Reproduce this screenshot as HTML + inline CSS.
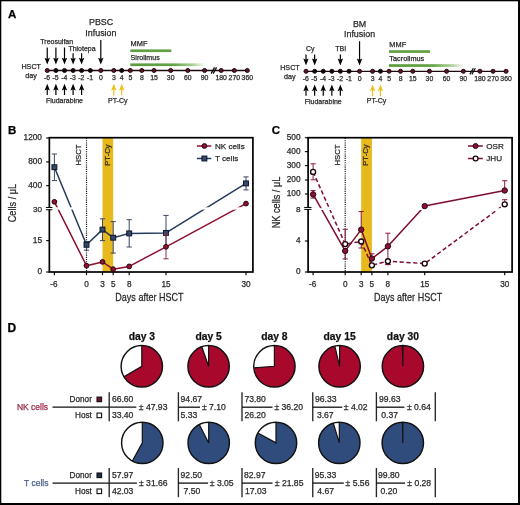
<!DOCTYPE html>
<html><head><meta charset="utf-8"><style>
html,body{margin:0;padding:0;background:#fff;}
#w{position:relative;width:520px;height:505px;overflow:hidden;background:#fff;}
svg{position:absolute;left:0;top:0;will-change:transform;}
svg text{font-family:"Liberation Sans",sans-serif;}
</style></head><body><div id="w">
<svg width="520" height="505" viewBox="0 0 520 505">
<rect x="0" y="0" width="520" height="505" fill="#fff"/>
<text x="8.00" y="18.40" font-size="11.5" text-anchor="start" font-weight="bold" fill="#000" stroke="#000" stroke-width="0.25" >A</text>
<defs><linearGradient id="g0" x1="0" x2="1" y1="0" y2="0"><stop offset="0" stop-color="#5a9a3c"/><stop offset="0.6" stop-color="#64a246"/><stop offset="0.85" stop-color="#88bc6c" stop-opacity="0.7"/><stop offset="1" stop-color="#a8d090" stop-opacity="0.15"/></linearGradient></defs>
<rect x="130.30" y="49.40" width="41.00" height="2.7" fill="#62a044"/>
<rect x="130.30" y="63.40" width="73.80" height="2.7" fill="url(#g0)"/>
<text x="130.60" y="46.00" font-size="7.4" text-anchor="start" font-weight="normal" fill="#2a2a2a" stroke="#2a2a2a" stroke-width="0.25" >MMF</text>
<text x="130.60" y="60.00" font-size="7.1" text-anchor="start" font-weight="normal" fill="#2a2a2a" stroke="#2a2a2a" stroke-width="0.25" >Sirolimus</text>
<line x1="47.25" y1="70.50" x2="247.30" y2="70.50" stroke="#1a0a0e" stroke-width="1.3" />
<line x1="211.15" y1="73.60" x2="214.55" y2="67.40" stroke="#111" stroke-width="1.25" />
<line x1="213.15" y1="73.60" x2="216.55" y2="67.40" stroke="#111" stroke-width="1.25" />
<circle cx="47.25" cy="70.50" r="2.05" fill="#5a1426" stroke="#1a0508" stroke-width="0.9"/>
<text x="46.95" y="79.60" font-size="6.9" text-anchor="middle" font-weight="normal" fill="#2a2a2a" stroke="#2a2a2a" stroke-width="0.25" >-6</text>
<circle cx="55.90" cy="70.50" r="2.05" fill="#0a0a0a" stroke="#1a0508" stroke-width="0.9"/>
<text x="55.60" y="79.60" font-size="6.9" text-anchor="middle" font-weight="normal" fill="#2a2a2a" stroke="#2a2a2a" stroke-width="0.25" >-5</text>
<circle cx="64.50" cy="70.50" r="2.05" fill="#0a0a0a" stroke="#1a0508" stroke-width="0.9"/>
<text x="64.20" y="79.60" font-size="6.9" text-anchor="middle" font-weight="normal" fill="#2a2a2a" stroke="#2a2a2a" stroke-width="0.25" >-4</text>
<circle cx="73.10" cy="70.50" r="2.05" fill="#0a0a0a" stroke="#1a0508" stroke-width="0.9"/>
<text x="72.80" y="79.60" font-size="6.9" text-anchor="middle" font-weight="normal" fill="#2a2a2a" stroke="#2a2a2a" stroke-width="0.25" >-3</text>
<circle cx="81.60" cy="70.50" r="2.05" fill="#0a0a0a" stroke="#1a0508" stroke-width="0.9"/>
<text x="81.30" y="79.60" font-size="6.9" text-anchor="middle" font-weight="normal" fill="#2a2a2a" stroke="#2a2a2a" stroke-width="0.25" >-2</text>
<circle cx="90.30" cy="70.50" r="2.05" fill="#0a0a0a" stroke="#1a0508" stroke-width="0.9"/>
<text x="90.00" y="79.60" font-size="6.9" text-anchor="middle" font-weight="normal" fill="#2a2a2a" stroke="#2a2a2a" stroke-width="0.25" >-1</text>
<circle cx="100.80" cy="70.50" r="2.05" fill="#5a1426" stroke="#1a0508" stroke-width="0.9"/>
<text x="100.80" y="79.60" font-size="6.9" text-anchor="middle" font-weight="normal" fill="#2a2a2a" stroke="#2a2a2a" stroke-width="0.25" >0</text>
<circle cx="113.80" cy="70.50" r="2.05" fill="#5a1426" stroke="#1a0508" stroke-width="0.9"/>
<text x="113.80" y="79.60" font-size="6.9" text-anchor="middle" font-weight="normal" fill="#2a2a2a" stroke="#2a2a2a" stroke-width="0.25" >3</text>
<circle cx="121.70" cy="70.50" r="2.05" fill="#0a0a0a" stroke="#1a0508" stroke-width="0.9"/>
<text x="121.70" y="79.60" font-size="6.9" text-anchor="middle" font-weight="normal" fill="#2a2a2a" stroke="#2a2a2a" stroke-width="0.25" >4</text>
<circle cx="130.30" cy="70.50" r="2.05" fill="#5a1426" stroke="#1a0508" stroke-width="0.9"/>
<text x="130.30" y="79.60" font-size="6.9" text-anchor="middle" font-weight="normal" fill="#2a2a2a" stroke="#2a2a2a" stroke-width="0.25" >5</text>
<circle cx="141.80" cy="70.50" r="2.05" fill="#5a1426" stroke="#1a0508" stroke-width="0.9"/>
<text x="141.80" y="79.60" font-size="6.9" text-anchor="middle" font-weight="normal" fill="#2a2a2a" stroke="#2a2a2a" stroke-width="0.25" >8</text>
<circle cx="154.00" cy="70.50" r="2.05" fill="#5a1426" stroke="#1a0508" stroke-width="0.9"/>
<text x="154.00" y="79.60" font-size="6.9" text-anchor="middle" font-weight="normal" fill="#2a2a2a" stroke="#2a2a2a" stroke-width="0.25" >15</text>
<circle cx="170.70" cy="70.50" r="2.05" fill="#5a1426" stroke="#1a0508" stroke-width="0.9"/>
<text x="170.70" y="79.60" font-size="6.9" text-anchor="middle" font-weight="normal" fill="#2a2a2a" stroke="#2a2a2a" stroke-width="0.25" >30</text>
<circle cx="187.80" cy="70.50" r="2.05" fill="#5a1426" stroke="#1a0508" stroke-width="0.9"/>
<text x="187.80" y="79.60" font-size="6.9" text-anchor="middle" font-weight="normal" fill="#2a2a2a" stroke="#2a2a2a" stroke-width="0.25" >60</text>
<circle cx="204.60" cy="70.50" r="2.05" fill="#5a1426" stroke="#1a0508" stroke-width="0.9"/>
<text x="204.60" y="79.60" font-size="6.9" text-anchor="middle" font-weight="normal" fill="#2a2a2a" stroke="#2a2a2a" stroke-width="0.25" >90</text>
<circle cx="221.20" cy="70.50" r="2.05" fill="#5a1426" stroke="#1a0508" stroke-width="0.9"/>
<text x="221.20" y="79.60" font-size="6.9" text-anchor="middle" font-weight="normal" fill="#2a2a2a" stroke="#2a2a2a" stroke-width="0.25" >180</text>
<circle cx="234.30" cy="70.50" r="2.05" fill="#5a1426" stroke="#1a0508" stroke-width="0.9"/>
<text x="234.30" y="79.60" font-size="6.9" text-anchor="middle" font-weight="normal" fill="#2a2a2a" stroke="#2a2a2a" stroke-width="0.25" >270</text>
<circle cx="247.30" cy="70.50" r="2.05" fill="#5a1426" stroke="#1a0508" stroke-width="0.9"/>
<text x="247.30" y="79.60" font-size="6.9" text-anchor="middle" font-weight="normal" fill="#2a2a2a" stroke="#2a2a2a" stroke-width="0.25" >360</text>
<text x="31.20" y="69.20" font-size="7.2" text-anchor="middle" font-weight="normal" fill="#2a2a2a" stroke="#2a2a2a" stroke-width="0.25" >HSCT</text>
<text x="31.00" y="78.20" font-size="7.2" text-anchor="middle" font-weight="normal" fill="#2a2a2a" stroke="#2a2a2a" stroke-width="0.25" >day</text>
<line x1="47.25" y1="89.00" x2="47.25" y2="95.00" stroke="#000" stroke-width="1.2" />
<path d="M44.55,90.50 L47.25,89.30 L49.95,90.50 L47.25,83.70 Z" fill="#000"/>
<line x1="55.90" y1="89.00" x2="55.90" y2="95.00" stroke="#000" stroke-width="1.2" />
<path d="M53.20,90.50 L55.90,89.30 L58.60,90.50 L55.90,83.70 Z" fill="#000"/>
<line x1="64.50" y1="89.00" x2="64.50" y2="95.00" stroke="#000" stroke-width="1.2" />
<path d="M61.80,90.50 L64.50,89.30 L67.20,90.50 L64.50,83.70 Z" fill="#000"/>
<line x1="73.10" y1="89.00" x2="73.10" y2="95.00" stroke="#000" stroke-width="1.2" />
<path d="M70.40,90.50 L73.10,89.30 L75.80,90.50 L73.10,83.70 Z" fill="#000"/>
<line x1="81.60" y1="89.00" x2="81.60" y2="95.00" stroke="#000" stroke-width="1.2" />
<path d="M78.90,90.50 L81.60,89.30 L84.30,90.50 L81.60,83.70 Z" fill="#000"/>
<text x="46.00" y="103.10" font-size="7.0" text-anchor="start" font-weight="normal" fill="#2a2a2a" stroke="#2a2a2a" stroke-width="0.25" >Fludarabine</text>
<line x1="113.80" y1="89.00" x2="113.80" y2="95.50" stroke="#ecc21a" stroke-width="1.2" />
<path d="M111.10,90.50 L113.80,89.30 L116.50,90.50 L113.80,83.70 Z" fill="#ecc21a"/>
<line x1="121.70" y1="89.00" x2="121.70" y2="95.50" stroke="#ecc21a" stroke-width="1.2" />
<path d="M119.00,90.50 L121.70,89.30 L124.40,90.50 L121.70,83.70 Z" fill="#ecc21a"/>
<text x="117.75" y="102.60" font-size="7.0" text-anchor="middle" font-weight="normal" fill="#2a2a2a" stroke="#2a2a2a" stroke-width="0.25" >PT-Cy</text>
<line x1="47.25" y1="47.50" x2="47.25" y2="59.30" stroke="#000" stroke-width="1.2" />
<path d="M44.55,57.80 L47.25,59.00 L49.95,57.80 L47.25,64.60 Z" fill="#000"/>
<line x1="55.90" y1="47.50" x2="55.90" y2="59.30" stroke="#000" stroke-width="1.2" />
<path d="M53.20,57.80 L55.90,59.00 L58.60,57.80 L55.90,64.60 Z" fill="#000"/>
<line x1="64.50" y1="47.50" x2="64.50" y2="59.30" stroke="#000" stroke-width="1.2" />
<path d="M61.80,57.80 L64.50,59.00 L67.20,57.80 L64.50,64.60 Z" fill="#000"/>
<line x1="73.10" y1="53.20" x2="73.10" y2="59.30" stroke="#000" stroke-width="1.2" />
<path d="M70.40,57.80 L73.10,59.00 L75.80,57.80 L73.10,64.60 Z" fill="#000"/>
<line x1="81.60" y1="53.20" x2="81.60" y2="59.30" stroke="#000" stroke-width="1.2" />
<path d="M78.90,57.80 L81.60,59.00 L84.30,57.80 L81.60,64.60 Z" fill="#000"/>
<text x="40.30" y="43.50" font-size="7.0" text-anchor="start" font-weight="normal" fill="#2a2a2a" stroke="#2a2a2a" stroke-width="0.25" >Treosulfan</text>
<text x="68.40" y="51.20" font-size="7.0" text-anchor="start" font-weight="normal" fill="#2a2a2a" stroke="#2a2a2a" stroke-width="0.25" >Thiotepa</text>
<line x1="100.80" y1="40.00" x2="100.80" y2="59.30" stroke="#000" stroke-width="1.2" />
<path d="M98.10,57.80 L100.80,59.00 L103.50,57.80 L100.80,64.60 Z" fill="#000"/>
<text x="101.10" y="25.30" font-size="8.9" text-anchor="middle" font-weight="normal" fill="#2a2a2a" stroke="#2a2a2a" stroke-width="0.25" >PBSC</text>
<text x="100.90" y="35.60" font-size="8.9" text-anchor="middle" font-weight="normal" fill="#2a2a2a" stroke="#2a2a2a" stroke-width="0.25" >Infusion</text>
<defs><linearGradient id="g258" x1="0" x2="1" y1="0" y2="0"><stop offset="0" stop-color="#5a9a3c"/><stop offset="0.6" stop-color="#64a246"/><stop offset="0.85" stop-color="#88bc6c" stop-opacity="0.7"/><stop offset="1" stop-color="#a8d090" stop-opacity="0.15"/></linearGradient></defs>
<rect x="389.05" y="50.20" width="41.00" height="2.7" fill="#62a044"/>
<rect x="389.05" y="64.20" width="73.80" height="2.7" fill="url(#g258)"/>
<text x="389.35" y="46.80" font-size="7.4" text-anchor="start" font-weight="normal" fill="#2a2a2a" stroke="#2a2a2a" stroke-width="0.25" >MMF</text>
<text x="389.35" y="60.80" font-size="7.3" text-anchor="start" font-weight="normal" fill="#2a2a2a" stroke="#2a2a2a" stroke-width="0.25" >Tacrolimus</text>
<line x1="306.00" y1="71.30" x2="506.05" y2="71.30" stroke="#1a0a0e" stroke-width="1.3" />
<line x1="469.90" y1="74.40" x2="473.30" y2="68.20" stroke="#111" stroke-width="1.25" />
<line x1="471.90" y1="74.40" x2="475.30" y2="68.20" stroke="#111" stroke-width="1.25" />
<circle cx="306.00" cy="71.30" r="2.05" fill="#5a1426" stroke="#1a0508" stroke-width="0.9"/>
<text x="305.70" y="80.70" font-size="6.9" text-anchor="middle" font-weight="normal" fill="#2a2a2a" stroke="#2a2a2a" stroke-width="0.25" >-6</text>
<circle cx="314.65" cy="71.30" r="2.05" fill="#0a0a0a" stroke="#1a0508" stroke-width="0.9"/>
<text x="314.35" y="80.70" font-size="6.9" text-anchor="middle" font-weight="normal" fill="#2a2a2a" stroke="#2a2a2a" stroke-width="0.25" >-5</text>
<circle cx="323.25" cy="71.30" r="2.05" fill="#0a0a0a" stroke="#1a0508" stroke-width="0.9"/>
<text x="322.95" y="80.70" font-size="6.9" text-anchor="middle" font-weight="normal" fill="#2a2a2a" stroke="#2a2a2a" stroke-width="0.25" >-4</text>
<circle cx="331.85" cy="71.30" r="2.05" fill="#0a0a0a" stroke="#1a0508" stroke-width="0.9"/>
<text x="331.55" y="80.70" font-size="6.9" text-anchor="middle" font-weight="normal" fill="#2a2a2a" stroke="#2a2a2a" stroke-width="0.25" >-3</text>
<circle cx="340.35" cy="71.30" r="2.05" fill="#0a0a0a" stroke="#1a0508" stroke-width="0.9"/>
<text x="340.05" y="80.70" font-size="6.9" text-anchor="middle" font-weight="normal" fill="#2a2a2a" stroke="#2a2a2a" stroke-width="0.25" >-2</text>
<circle cx="349.05" cy="71.30" r="2.05" fill="#0a0a0a" stroke="#1a0508" stroke-width="0.9"/>
<text x="348.75" y="80.70" font-size="6.9" text-anchor="middle" font-weight="normal" fill="#2a2a2a" stroke="#2a2a2a" stroke-width="0.25" >-1</text>
<circle cx="359.55" cy="71.30" r="2.05" fill="#5a1426" stroke="#1a0508" stroke-width="0.9"/>
<text x="359.55" y="80.70" font-size="6.9" text-anchor="middle" font-weight="normal" fill="#2a2a2a" stroke="#2a2a2a" stroke-width="0.25" >0</text>
<circle cx="372.55" cy="71.30" r="2.05" fill="#5a1426" stroke="#1a0508" stroke-width="0.9"/>
<text x="372.55" y="80.70" font-size="6.9" text-anchor="middle" font-weight="normal" fill="#2a2a2a" stroke="#2a2a2a" stroke-width="0.25" >3</text>
<circle cx="380.45" cy="71.30" r="2.05" fill="#0a0a0a" stroke="#1a0508" stroke-width="0.9"/>
<text x="380.45" y="80.70" font-size="6.9" text-anchor="middle" font-weight="normal" fill="#2a2a2a" stroke="#2a2a2a" stroke-width="0.25" >4</text>
<circle cx="389.05" cy="71.30" r="2.05" fill="#5a1426" stroke="#1a0508" stroke-width="0.9"/>
<text x="389.05" y="80.70" font-size="6.9" text-anchor="middle" font-weight="normal" fill="#2a2a2a" stroke="#2a2a2a" stroke-width="0.25" >5</text>
<circle cx="400.55" cy="71.30" r="2.05" fill="#5a1426" stroke="#1a0508" stroke-width="0.9"/>
<text x="400.55" y="80.70" font-size="6.9" text-anchor="middle" font-weight="normal" fill="#2a2a2a" stroke="#2a2a2a" stroke-width="0.25" >8</text>
<circle cx="412.75" cy="71.30" r="2.05" fill="#5a1426" stroke="#1a0508" stroke-width="0.9"/>
<text x="412.75" y="80.70" font-size="6.9" text-anchor="middle" font-weight="normal" fill="#2a2a2a" stroke="#2a2a2a" stroke-width="0.25" >15</text>
<circle cx="429.45" cy="71.30" r="2.05" fill="#5a1426" stroke="#1a0508" stroke-width="0.9"/>
<text x="429.45" y="80.70" font-size="6.9" text-anchor="middle" font-weight="normal" fill="#2a2a2a" stroke="#2a2a2a" stroke-width="0.25" >30</text>
<circle cx="446.55" cy="71.30" r="2.05" fill="#5a1426" stroke="#1a0508" stroke-width="0.9"/>
<text x="446.55" y="80.70" font-size="6.9" text-anchor="middle" font-weight="normal" fill="#2a2a2a" stroke="#2a2a2a" stroke-width="0.25" >60</text>
<circle cx="463.35" cy="71.30" r="2.05" fill="#5a1426" stroke="#1a0508" stroke-width="0.9"/>
<text x="463.35" y="80.70" font-size="6.9" text-anchor="middle" font-weight="normal" fill="#2a2a2a" stroke="#2a2a2a" stroke-width="0.25" >90</text>
<circle cx="479.95" cy="71.30" r="2.05" fill="#5a1426" stroke="#1a0508" stroke-width="0.9"/>
<text x="479.95" y="80.70" font-size="6.9" text-anchor="middle" font-weight="normal" fill="#2a2a2a" stroke="#2a2a2a" stroke-width="0.25" >180</text>
<circle cx="493.05" cy="71.30" r="2.05" fill="#5a1426" stroke="#1a0508" stroke-width="0.9"/>
<text x="493.05" y="80.70" font-size="6.9" text-anchor="middle" font-weight="normal" fill="#2a2a2a" stroke="#2a2a2a" stroke-width="0.25" >270</text>
<circle cx="506.05" cy="71.30" r="2.05" fill="#5a1426" stroke="#1a0508" stroke-width="0.9"/>
<text x="506.05" y="80.70" font-size="6.9" text-anchor="middle" font-weight="normal" fill="#2a2a2a" stroke="#2a2a2a" stroke-width="0.25" >360</text>
<text x="289.95" y="70.00" font-size="7.2" text-anchor="middle" font-weight="normal" fill="#2a2a2a" stroke="#2a2a2a" stroke-width="0.25" >HSCT</text>
<text x="289.75" y="79.00" font-size="7.2" text-anchor="middle" font-weight="normal" fill="#2a2a2a" stroke="#2a2a2a" stroke-width="0.25" >day</text>
<line x1="306.00" y1="89.80" x2="306.00" y2="95.80" stroke="#000" stroke-width="1.2" />
<path d="M303.30,91.30 L306.00,90.10 L308.70,91.30 L306.00,84.50 Z" fill="#000"/>
<line x1="314.65" y1="89.80" x2="314.65" y2="95.80" stroke="#000" stroke-width="1.2" />
<path d="M311.95,91.30 L314.65,90.10 L317.35,91.30 L314.65,84.50 Z" fill="#000"/>
<line x1="323.25" y1="89.80" x2="323.25" y2="95.80" stroke="#000" stroke-width="1.2" />
<path d="M320.55,91.30 L323.25,90.10 L325.95,91.30 L323.25,84.50 Z" fill="#000"/>
<line x1="331.85" y1="89.80" x2="331.85" y2="95.80" stroke="#000" stroke-width="1.2" />
<path d="M329.15,91.30 L331.85,90.10 L334.55,91.30 L331.85,84.50 Z" fill="#000"/>
<line x1="340.35" y1="89.80" x2="340.35" y2="95.80" stroke="#000" stroke-width="1.2" />
<path d="M337.65,91.30 L340.35,90.10 L343.05,91.30 L340.35,84.50 Z" fill="#000"/>
<text x="304.75" y="103.90" font-size="7.0" text-anchor="start" font-weight="normal" fill="#2a2a2a" stroke="#2a2a2a" stroke-width="0.25" >Fludarabine</text>
<line x1="372.55" y1="89.80" x2="372.55" y2="96.30" stroke="#ecc21a" stroke-width="1.2" />
<path d="M369.85,91.30 L372.55,90.10 L375.25,91.30 L372.55,84.50 Z" fill="#ecc21a"/>
<line x1="380.45" y1="89.80" x2="380.45" y2="96.30" stroke="#ecc21a" stroke-width="1.2" />
<path d="M377.75,91.30 L380.45,90.10 L383.15,91.30 L380.45,84.50 Z" fill="#ecc21a"/>
<text x="376.50" y="103.40" font-size="7.0" text-anchor="middle" font-weight="normal" fill="#2a2a2a" stroke="#2a2a2a" stroke-width="0.25" >PT-Cy</text>
<line x1="306.00" y1="54.40" x2="306.00" y2="60.10" stroke="#000" stroke-width="1.2" />
<path d="M303.30,58.60 L306.00,59.80 L308.70,58.60 L306.00,65.40 Z" fill="#000"/>
<line x1="314.65" y1="54.40" x2="314.65" y2="60.10" stroke="#000" stroke-width="1.2" />
<path d="M311.95,58.60 L314.65,59.80 L317.35,58.60 L314.65,65.40 Z" fill="#000"/>
<text x="310.32" y="50.60" font-size="7.0" text-anchor="middle" font-weight="normal" fill="#2a2a2a" stroke="#2a2a2a" stroke-width="0.25" >Cy</text>
<line x1="340.35" y1="54.40" x2="340.35" y2="60.10" stroke="#000" stroke-width="1.2" />
<path d="M337.65,58.60 L340.35,59.80 L343.05,58.60 L340.35,65.40 Z" fill="#000"/>
<text x="340.75" y="50.60" font-size="7.0" text-anchor="middle" font-weight="normal" fill="#2a2a2a" stroke="#2a2a2a" stroke-width="0.25" >TBI</text>
<line x1="359.55" y1="41.20" x2="359.55" y2="60.10" stroke="#000" stroke-width="1.2" />
<path d="M356.85,58.60 L359.55,59.80 L362.25,58.60 L359.55,65.40 Z" fill="#000"/>
<text x="359.55" y="26.50" font-size="8.9" text-anchor="middle" font-weight="normal" fill="#2a2a2a" stroke="#2a2a2a" stroke-width="0.25" >BM</text>
<text x="359.55" y="36.90" font-size="8.9" text-anchor="middle" font-weight="normal" fill="#2a2a2a" stroke="#2a2a2a" stroke-width="0.25" >Infusion</text>
<defs><mask id="mB" maskUnits="userSpaceOnUse" x="0" y="0" width="520" height="505"><rect x="0" y="0" width="520" height="505" fill="#fff"/><rect x="50" y="207.3" width="202" height="2.3" fill="#000"/></mask><mask id="mC" maskUnits="userSpaceOnUse" x="0" y="0" width="520" height="505"><rect x="0" y="0" width="520" height="505" fill="#fff"/><rect x="309" y="208.2" width="202" height="1.8" fill="#000"/></mask></defs>
<rect x="102.50" y="138.00" width="10.70" height="134.00" fill="#e8b91c"/>
<line x1="86.50" y1="138.00" x2="86.50" y2="272.00" stroke="#111" stroke-width="1.2" stroke-dasharray="1.1,1.1"/>
<text transform="translate(81.10,155.00) rotate(-90)" x="0" y="0" font-size="7.7" text-anchor="middle" fill="#2a2a2a" stroke="#2a2a2a" stroke-width="0.25">HSCT</text>
<text transform="translate(109.50,155.10) rotate(-90)" x="0" y="0" font-size="7.7" text-anchor="middle" fill="#332b1a" stroke="#332b1a" stroke-width="0.25">PT-Cy</text>
<line x1="46.20" y1="138.00" x2="49.40" y2="138.00" stroke="#111" stroke-width="1.2" />
<text x="42.00" y="140.10" font-size="8.3" text-anchor="end" font-weight="normal" fill="#2a2a2a" stroke="#2a2a2a" stroke-width="0.25" >1200</text>
<line x1="46.20" y1="161.90" x2="49.40" y2="161.90" stroke="#111" stroke-width="1.2" />
<text x="42.00" y="164.00" font-size="8.3" text-anchor="end" font-weight="normal" fill="#2a2a2a" stroke="#2a2a2a" stroke-width="0.25" >800</text>
<line x1="46.20" y1="185.60" x2="49.40" y2="185.60" stroke="#111" stroke-width="1.2" />
<text x="42.00" y="187.70" font-size="8.3" text-anchor="end" font-weight="normal" fill="#2a2a2a" stroke="#2a2a2a" stroke-width="0.25" >400</text>
<line x1="46.20" y1="240.60" x2="49.40" y2="240.60" stroke="#111" stroke-width="1.2" />
<text x="42.00" y="242.70" font-size="8.3" text-anchor="end" font-weight="normal" fill="#2a2a2a" stroke="#2a2a2a" stroke-width="0.25" >15</text>
<line x1="46.20" y1="272.00" x2="49.40" y2="272.00" stroke="#111" stroke-width="1.2" />
<text x="42.00" y="274.10" font-size="8.3" text-anchor="end" font-weight="normal" fill="#2a2a2a" stroke="#2a2a2a" stroke-width="0.25" >0</text>
<line x1="54.40" y1="272.00" x2="54.40" y2="275.20" stroke="#111" stroke-width="1.2" />
<text x="54.00" y="286.50" font-size="8.2" text-anchor="middle" font-weight="normal" fill="#2a2a2a" stroke="#2a2a2a" stroke-width="0.25" >-6</text>
<line x1="86.50" y1="272.00" x2="86.50" y2="275.20" stroke="#111" stroke-width="1.2" />
<text x="86.50" y="286.50" font-size="8.2" text-anchor="middle" font-weight="normal" fill="#2a2a2a" stroke="#2a2a2a" stroke-width="0.25" >0</text>
<line x1="102.50" y1="272.00" x2="102.50" y2="275.20" stroke="#111" stroke-width="1.2" />
<text x="102.50" y="286.50" font-size="8.2" text-anchor="middle" font-weight="normal" fill="#2a2a2a" stroke="#2a2a2a" stroke-width="0.25" >3</text>
<line x1="113.20" y1="272.00" x2="113.20" y2="275.20" stroke="#111" stroke-width="1.2" />
<text x="113.20" y="286.50" font-size="8.2" text-anchor="middle" font-weight="normal" fill="#2a2a2a" stroke="#2a2a2a" stroke-width="0.25" >5</text>
<line x1="129.20" y1="272.00" x2="129.20" y2="275.20" stroke="#111" stroke-width="1.2" />
<text x="129.20" y="286.50" font-size="8.2" text-anchor="middle" font-weight="normal" fill="#2a2a2a" stroke="#2a2a2a" stroke-width="0.25" >8</text>
<line x1="166.00" y1="272.00" x2="166.00" y2="275.20" stroke="#111" stroke-width="1.2" />
<text x="166.00" y="286.50" font-size="8.2" text-anchor="middle" font-weight="normal" fill="#2a2a2a" stroke="#2a2a2a" stroke-width="0.25" >15</text>
<line x1="246.00" y1="272.00" x2="246.00" y2="275.20" stroke="#111" stroke-width="1.2" />
<text x="246.00" y="286.50" font-size="8.2" text-anchor="middle" font-weight="normal" fill="#2a2a2a" stroke="#2a2a2a" stroke-width="0.25" >30</text>
<text transform="translate(149.40,301.0) scale(0.86,1)" x="0" y="0" font-size="10.5" text-anchor="middle" fill="#2a2a2a" stroke="#2a2a2a" stroke-width="0.25">Days after HSCT</text>
<text x="8.00" y="134.00" font-size="11.5" text-anchor="start" font-weight="bold" fill="#000" stroke="#000" stroke-width="0.25" >B</text>
<line x1="54.40" y1="154.00" x2="54.40" y2="180.60" stroke="#3c4660" stroke-width="1.0" />
<line x1="51.80" y1="154.00" x2="57.00" y2="154.00" stroke="#3c4660" stroke-width="1.0" />
<line x1="51.80" y1="180.60" x2="57.00" y2="180.60" stroke="#3c4660" stroke-width="1.0" />
<line x1="86.50" y1="241.50" x2="86.50" y2="250.20" stroke="#3c4660" stroke-width="1.0" />
<line x1="83.90" y1="241.50" x2="89.10" y2="241.50" stroke="#3c4660" stroke-width="1.0" />
<line x1="83.90" y1="250.20" x2="89.10" y2="250.20" stroke="#3c4660" stroke-width="1.0" />
<line x1="102.50" y1="218.80" x2="102.50" y2="240.60" stroke="#3c4660" stroke-width="1.0" />
<line x1="99.90" y1="218.80" x2="105.10" y2="218.80" stroke="#3c4660" stroke-width="1.0" />
<line x1="99.90" y1="240.60" x2="105.10" y2="240.60" stroke="#3c4660" stroke-width="1.0" />
<line x1="113.20" y1="221.60" x2="113.20" y2="253.10" stroke="#3c4660" stroke-width="1.0" />
<line x1="110.60" y1="221.60" x2="115.80" y2="221.60" stroke="#3c4660" stroke-width="1.0" />
<line x1="110.60" y1="253.10" x2="115.80" y2="253.10" stroke="#3c4660" stroke-width="1.0" />
<line x1="129.20" y1="219.70" x2="129.20" y2="247.00" stroke="#3c4660" stroke-width="1.0" />
<line x1="126.60" y1="219.70" x2="131.80" y2="219.70" stroke="#3c4660" stroke-width="1.0" />
<line x1="126.60" y1="247.00" x2="131.80" y2="247.00" stroke="#3c4660" stroke-width="1.0" />
<line x1="166.00" y1="215.40" x2="166.00" y2="246.00" stroke="#3c4660" stroke-width="1.0" />
<line x1="163.40" y1="215.40" x2="168.60" y2="215.40" stroke="#3c4660" stroke-width="1.0" />
<line x1="163.40" y1="246.00" x2="168.60" y2="246.00" stroke="#3c4660" stroke-width="1.0" />
<line x1="246.00" y1="176.90" x2="246.00" y2="189.90" stroke="#3c4660" stroke-width="1.0" />
<line x1="243.40" y1="176.90" x2="248.60" y2="176.90" stroke="#3c4660" stroke-width="1.0" />
<line x1="243.40" y1="189.90" x2="248.60" y2="189.90" stroke="#3c4660" stroke-width="1.0" />
<g mask="url(#mB)">
<polyline points="54.40,167.20 86.50,244.80 102.50,229.60 113.20,237.70 129.20,233.40 166.00,232.90 246.00,183.40" fill="none" stroke="#243a5e" stroke-width="1.5" stroke-linejoin="round" />
<polyline points="54.40,201.80 86.50,265.70 102.50,261.90 113.20,269.20 129.20,266.40 166.00,246.80 246.00,203.60" fill="none" stroke="#8e0f2e" stroke-width="1.5" stroke-linejoin="round" />
</g>
<rect x="49.35" y="137.70" width="203.55" height="134.30" fill="none" stroke="#000" stroke-width="1.7"/>
<rect x="44" y="207.6" width="9" height="2.0" fill="#fff"/>
<line x1="45.90" y1="207.55" x2="52.40" y2="207.55" stroke="#000" stroke-width="1.0" />
<line x1="45.90" y1="209.75" x2="52.40" y2="209.75" stroke="#000" stroke-width="1.0" />
<text x="42.00" y="211.70" font-size="8.1" text-anchor="end" font-weight="normal" fill="#2a2a2a" stroke="#2a2a2a" stroke-width="0.25" >30</text>
<rect x="51.95" y="164.75" width="4.9" height="4.9" fill="#34496e" stroke="#0d1626" stroke-width="1.0"/>
<rect x="84.05" y="242.35" width="4.9" height="4.9" fill="#34496e" stroke="#0d1626" stroke-width="1.0"/>
<rect x="100.05" y="227.15" width="4.9" height="4.9" fill="#34496e" stroke="#0d1626" stroke-width="1.0"/>
<rect x="110.75" y="235.25" width="4.9" height="4.9" fill="#34496e" stroke="#0d1626" stroke-width="1.0"/>
<rect x="126.75" y="230.95" width="4.9" height="4.9" fill="#34496e" stroke="#0d1626" stroke-width="1.0"/>
<rect x="163.55" y="230.45" width="4.9" height="4.9" fill="#34496e" stroke="#0d1626" stroke-width="1.0"/>
<rect x="243.55" y="180.95" width="4.9" height="4.9" fill="#34496e" stroke="#0d1626" stroke-width="1.0"/>
<line x1="166.00" y1="234.00" x2="166.00" y2="258.80" stroke="#8c3050" stroke-width="1.0" />
<line x1="163.40" y1="234.00" x2="168.60" y2="234.00" stroke="#8c3050" stroke-width="1.0" />
<line x1="163.40" y1="258.80" x2="168.60" y2="258.80" stroke="#8c3050" stroke-width="1.0" />
<circle cx="54.40" cy="201.80" r="2.4" fill="#8e1131" stroke="#2a0510" stroke-width="1.0"/>
<circle cx="86.50" cy="265.70" r="2.4" fill="#8e1131" stroke="#2a0510" stroke-width="1.0"/>
<circle cx="102.50" cy="261.90" r="2.4" fill="#8e1131" stroke="#2a0510" stroke-width="1.0"/>
<circle cx="113.20" cy="269.20" r="2.4" fill="#8e1131" stroke="#2a0510" stroke-width="1.0"/>
<circle cx="129.20" cy="266.40" r="2.4" fill="#8e1131" stroke="#2a0510" stroke-width="1.0"/>
<circle cx="166.00" cy="246.80" r="2.4" fill="#8e1131" stroke="#2a0510" stroke-width="1.0"/>
<circle cx="246.00" cy="203.60" r="2.4" fill="#8e1131" stroke="#2a0510" stroke-width="1.0"/>
<line x1="196.90" y1="146.00" x2="211.30" y2="146.00" stroke="#8e0f2e" stroke-width="1.5" />
<circle cx="204.40" cy="146.00" r="2.4" fill="#8e1131" stroke="#2a0510" stroke-width="1.0"/>
<text x="215.00" y="148.80" font-size="8.1" text-anchor="start" font-weight="normal" fill="#2a2a2a" stroke="#2a2a2a" stroke-width="0.25" >NK cells</text>
<line x1="196.90" y1="158.50" x2="211.30" y2="158.50" stroke="#243a5e" stroke-width="1.5" />
<rect x="201.95" y="156.05" width="4.9" height="4.9" fill="#34496e" stroke="#0d1626" stroke-width="1.0"/>
<text x="215.00" y="161.20" font-size="8.1" text-anchor="start" font-weight="normal" fill="#2a2a2a" stroke="#2a2a2a" stroke-width="0.25" >T cells</text>
<text transform="translate(16.1,203.1) rotate(-90) scale(0.9,1)" x="0" y="0" font-size="10.2" text-anchor="middle" fill="#2a2a2a" stroke="#2a2a2a" stroke-width="0.25">Cells / μL</text>
<rect x="361.20" y="138.00" width="10.70" height="134.00" fill="#e8b91c"/>
<line x1="345.20" y1="138.00" x2="345.20" y2="272.00" stroke="#111" stroke-width="1.2" stroke-dasharray="1.1,1.1"/>
<text transform="translate(339.80,155.00) rotate(-90)" x="0" y="0" font-size="7.7" text-anchor="middle" fill="#2a2a2a" stroke="#2a2a2a" stroke-width="0.25">HSCT</text>
<text transform="translate(368.20,155.10) rotate(-90)" x="0" y="0" font-size="7.7" text-anchor="middle" fill="#332b1a" stroke="#332b1a" stroke-width="0.25">PT-Cy</text>
<line x1="304.90" y1="137.75" x2="308.10" y2="137.75" stroke="#111" stroke-width="1.2" />
<text x="300.60" y="139.85" font-size="8.3" text-anchor="end" font-weight="normal" fill="#2a2a2a" stroke="#2a2a2a" stroke-width="0.25" >500</text>
<line x1="304.90" y1="151.60" x2="308.10" y2="151.60" stroke="#111" stroke-width="1.2" />
<text x="300.60" y="153.70" font-size="8.3" text-anchor="end" font-weight="normal" fill="#2a2a2a" stroke="#2a2a2a" stroke-width="0.25" >400</text>
<line x1="304.90" y1="165.60" x2="308.10" y2="165.60" stroke="#111" stroke-width="1.2" />
<text x="300.60" y="167.70" font-size="8.3" text-anchor="end" font-weight="normal" fill="#2a2a2a" stroke="#2a2a2a" stroke-width="0.25" >300</text>
<line x1="304.90" y1="180.00" x2="308.10" y2="180.00" stroke="#111" stroke-width="1.2" />
<text x="300.60" y="182.10" font-size="8.3" text-anchor="end" font-weight="normal" fill="#2a2a2a" stroke="#2a2a2a" stroke-width="0.25" >200</text>
<line x1="304.90" y1="194.00" x2="308.10" y2="194.00" stroke="#111" stroke-width="1.2" />
<text x="300.60" y="196.10" font-size="8.3" text-anchor="end" font-weight="normal" fill="#2a2a2a" stroke="#2a2a2a" stroke-width="0.25" >100</text>
<line x1="304.90" y1="241.00" x2="308.10" y2="241.00" stroke="#111" stroke-width="1.2" />
<text x="300.60" y="243.10" font-size="8.3" text-anchor="end" font-weight="normal" fill="#2a2a2a" stroke="#2a2a2a" stroke-width="0.25" >4</text>
<line x1="304.90" y1="272.00" x2="308.10" y2="272.00" stroke="#111" stroke-width="1.2" />
<text x="300.60" y="274.10" font-size="8.3" text-anchor="end" font-weight="normal" fill="#2a2a2a" stroke="#2a2a2a" stroke-width="0.25" >0</text>
<line x1="313.10" y1="272.00" x2="313.10" y2="275.20" stroke="#111" stroke-width="1.2" />
<text x="312.70" y="286.50" font-size="8.2" text-anchor="middle" font-weight="normal" fill="#2a2a2a" stroke="#2a2a2a" stroke-width="0.25" >-6</text>
<line x1="345.20" y1="272.00" x2="345.20" y2="275.20" stroke="#111" stroke-width="1.2" />
<text x="345.20" y="286.50" font-size="8.2" text-anchor="middle" font-weight="normal" fill="#2a2a2a" stroke="#2a2a2a" stroke-width="0.25" >0</text>
<line x1="361.20" y1="272.00" x2="361.20" y2="275.20" stroke="#111" stroke-width="1.2" />
<text x="361.20" y="286.50" font-size="8.2" text-anchor="middle" font-weight="normal" fill="#2a2a2a" stroke="#2a2a2a" stroke-width="0.25" >3</text>
<line x1="371.90" y1="272.00" x2="371.90" y2="275.20" stroke="#111" stroke-width="1.2" />
<text x="371.90" y="286.50" font-size="8.2" text-anchor="middle" font-weight="normal" fill="#2a2a2a" stroke="#2a2a2a" stroke-width="0.25" >5</text>
<line x1="387.90" y1="272.00" x2="387.90" y2="275.20" stroke="#111" stroke-width="1.2" />
<text x="387.90" y="286.50" font-size="8.2" text-anchor="middle" font-weight="normal" fill="#2a2a2a" stroke="#2a2a2a" stroke-width="0.25" >8</text>
<line x1="424.70" y1="272.00" x2="424.70" y2="275.20" stroke="#111" stroke-width="1.2" />
<text x="424.70" y="286.50" font-size="8.2" text-anchor="middle" font-weight="normal" fill="#2a2a2a" stroke="#2a2a2a" stroke-width="0.25" >15</text>
<line x1="504.70" y1="272.00" x2="504.70" y2="275.20" stroke="#111" stroke-width="1.2" />
<text x="504.70" y="286.50" font-size="8.2" text-anchor="middle" font-weight="normal" fill="#2a2a2a" stroke="#2a2a2a" stroke-width="0.25" >30</text>
<text transform="translate(408.10,301.0) scale(0.86,1)" x="0" y="0" font-size="10.5" text-anchor="middle" fill="#2a2a2a" stroke="#2a2a2a" stroke-width="0.25">Days after HSCT</text>
<text x="271.80" y="133.80" font-size="11.5" text-anchor="start" font-weight="bold" fill="#000" stroke="#000" stroke-width="0.25" >C</text>
<line x1="313.10" y1="190.60" x2="313.10" y2="198.10" stroke="#8a1a3c" stroke-width="1.0" />
<line x1="310.50" y1="190.60" x2="315.70" y2="190.60" stroke="#8a1a3c" stroke-width="1.0" />
<line x1="310.50" y1="198.10" x2="315.70" y2="198.10" stroke="#8a1a3c" stroke-width="1.0" />
<line x1="345.20" y1="250.90" x2="345.20" y2="258.90" stroke="#8a1a3c" stroke-width="1.0" />
<line x1="342.60" y1="250.90" x2="347.80" y2="250.90" stroke="#8a1a3c" stroke-width="1.0" />
<line x1="342.60" y1="258.90" x2="347.80" y2="258.90" stroke="#8a1a3c" stroke-width="1.0" />
<line x1="361.20" y1="211.50" x2="361.20" y2="229.60" stroke="#8a1a3c" stroke-width="1.0" />
<line x1="358.60" y1="211.50" x2="363.80" y2="211.50" stroke="#8a1a3c" stroke-width="1.0" />
<line x1="358.60" y1="229.60" x2="363.80" y2="229.60" stroke="#8a1a3c" stroke-width="1.0" />
<line x1="371.90" y1="253.80" x2="371.90" y2="258.60" stroke="#8a1a3c" stroke-width="1.0" />
<line x1="369.30" y1="253.80" x2="374.50" y2="253.80" stroke="#8a1a3c" stroke-width="1.0" />
<line x1="369.30" y1="258.60" x2="374.50" y2="258.60" stroke="#8a1a3c" stroke-width="1.0" />
<line x1="387.90" y1="233.20" x2="387.90" y2="264.70" stroke="#8a1a3c" stroke-width="1.0" />
<line x1="385.30" y1="233.20" x2="390.50" y2="233.20" stroke="#8a1a3c" stroke-width="1.0" />
<line x1="385.30" y1="264.70" x2="390.50" y2="264.70" stroke="#8a1a3c" stroke-width="1.0" />
<line x1="504.70" y1="180.70" x2="504.70" y2="190.50" stroke="#8a1a3c" stroke-width="1.0" />
<line x1="502.10" y1="180.70" x2="507.30" y2="180.70" stroke="#8a1a3c" stroke-width="1.0" />
<line x1="502.10" y1="190.50" x2="507.30" y2="190.50" stroke="#8a1a3c" stroke-width="1.0" />
<line x1="313.10" y1="163.80" x2="313.10" y2="179.80" stroke="#8a1a3c" stroke-width="1.0" />
<line x1="310.50" y1="163.80" x2="315.70" y2="163.80" stroke="#8a1a3c" stroke-width="1.0" />
<line x1="310.50" y1="179.80" x2="315.70" y2="179.80" stroke="#8a1a3c" stroke-width="1.0" />
<line x1="345.20" y1="229.30" x2="345.20" y2="244.10" stroke="#8a1a3c" stroke-width="1.0" />
<line x1="342.60" y1="229.30" x2="347.80" y2="229.30" stroke="#8a1a3c" stroke-width="1.0" />
<line x1="342.60" y1="244.10" x2="347.80" y2="244.10" stroke="#8a1a3c" stroke-width="1.0" />
<line x1="361.20" y1="241.50" x2="361.20" y2="248.00" stroke="#8a1a3c" stroke-width="1.0" />
<line x1="358.60" y1="241.50" x2="363.80" y2="241.50" stroke="#8a1a3c" stroke-width="1.0" />
<line x1="358.60" y1="248.00" x2="363.80" y2="248.00" stroke="#8a1a3c" stroke-width="1.0" />
<line x1="387.90" y1="261.20" x2="387.90" y2="264.50" stroke="#8a1a3c" stroke-width="1.0" />
<line x1="385.30" y1="261.20" x2="390.50" y2="261.20" stroke="#8a1a3c" stroke-width="1.0" />
<line x1="385.30" y1="264.50" x2="390.50" y2="264.50" stroke="#8a1a3c" stroke-width="1.0" />
<line x1="504.70" y1="199.70" x2="504.70" y2="204.30" stroke="#8a1a3c" stroke-width="1.0" />
<line x1="502.10" y1="199.70" x2="507.30" y2="199.70" stroke="#8a1a3c" stroke-width="1.0" />
<line x1="502.10" y1="204.30" x2="507.30" y2="204.30" stroke="#8a1a3c" stroke-width="1.0" />
<g mask="url(#mC)">
<polyline points="313.10,171.90 345.20,244.10 361.20,241.50 371.90,265.30 387.90,261.20 424.70,263.60 504.70,204.30" fill="none" stroke="#7e0c30" stroke-width="1.5" stroke-linejoin="round" stroke-dasharray="4.2,2.6"/>
<polyline points="313.10,194.40 345.20,250.90 361.20,229.60 371.90,258.60 387.90,246.30 424.70,206.10 504.70,190.50" fill="none" stroke="#7e0c30" stroke-width="1.5" stroke-linejoin="round" />
</g>
<rect x="308.10" y="137.70" width="204.00" height="134.30" fill="none" stroke="#000" stroke-width="1.7"/>
<rect x="303" y="207.5" width="9" height="1.8" fill="#fff"/>
<line x1="304.20" y1="207.45" x2="311.50" y2="207.45" stroke="#000" stroke-width="1.0" />
<line x1="304.20" y1="209.40" x2="311.50" y2="209.40" stroke="#000" stroke-width="1.0" />
<text x="300.60" y="211.80" font-size="8.1" text-anchor="end" font-weight="normal" fill="#2a2a2a" stroke="#2a2a2a" stroke-width="0.25" >8</text>
<circle cx="313.10" cy="194.40" r="2.7" fill="#8a1234" stroke="#2a0510" stroke-width="1.0"/>
<circle cx="345.20" cy="250.90" r="2.7" fill="#8a1234" stroke="#2a0510" stroke-width="1.0"/>
<circle cx="361.20" cy="229.60" r="2.7" fill="#8a1234" stroke="#2a0510" stroke-width="1.0"/>
<circle cx="371.90" cy="258.60" r="2.7" fill="#8a1234" stroke="#2a0510" stroke-width="1.0"/>
<circle cx="387.90" cy="246.30" r="2.7" fill="#8a1234" stroke="#2a0510" stroke-width="1.0"/>
<circle cx="424.70" cy="206.10" r="2.7" fill="#8a1234" stroke="#2a0510" stroke-width="1.0"/>
<circle cx="504.70" cy="190.50" r="2.7" fill="#8a1234" stroke="#2a0510" stroke-width="1.0"/>
<circle cx="313.10" cy="171.90" r="2.5" fill="#fff" stroke="#1a0508" stroke-width="1.35"/>
<circle cx="345.20" cy="244.10" r="2.5" fill="#fff" stroke="#1a0508" stroke-width="1.35"/>
<circle cx="361.20" cy="241.50" r="2.5" fill="#fff" stroke="#1a0508" stroke-width="1.35"/>
<circle cx="371.90" cy="265.30" r="2.5" fill="#fff" stroke="#1a0508" stroke-width="1.35"/>
<circle cx="387.90" cy="261.20" r="2.5" fill="#fff" stroke="#1a0508" stroke-width="1.35"/>
<circle cx="424.70" cy="263.60" r="2.5" fill="#fff" stroke="#1a0508" stroke-width="1.35"/>
<circle cx="504.70" cy="204.30" r="2.5" fill="#fff" stroke="#1a0508" stroke-width="1.35"/>
<line x1="468.10" y1="146.00" x2="482.80" y2="146.00" stroke="#7e0c30" stroke-width="1.5" />
<circle cx="475.60" cy="146.00" r="2.5" fill="#8a1234" stroke="#2a0510" stroke-width="1.0"/>
<text x="486.30" y="148.70" font-size="8.1" text-anchor="start" font-weight="normal" fill="#2a2a2a" stroke="#2a2a2a" stroke-width="0.25" >OSR</text>
<line x1="468.10" y1="158.50" x2="482.80" y2="158.50" stroke="#7e0c30" stroke-width="1.5" />
<circle cx="475.60" cy="158.50" r="2.4" fill="#fff" stroke="#1a0508" stroke-width="1.3"/>
<text x="486.30" y="161.20" font-size="8.1" text-anchor="start" font-weight="normal" fill="#2a2a2a" stroke="#2a2a2a" stroke-width="0.25" >JHU</text>
<text transform="translate(279.8,202.5) rotate(-90) scale(0.9,1)" x="0" y="0" font-size="10.2" text-anchor="middle" fill="#2a2a2a" stroke="#2a2a2a" stroke-width="0.25">NK cells / μL</text>
<text x="7.50" y="331.60" font-size="12" text-anchor="start" font-weight="bold" fill="#000" stroke="#000" stroke-width="0.25" >D</text>
<text x="141.80" y="340.20" font-size="10.3" text-anchor="middle" font-weight="bold" fill="#111" stroke="#111" stroke-width="0.25" >day 3</text>
<circle cx="141.80" cy="366.30" r="20.7" fill="#fff"/>
<path d="M141.80,366.30 L141.80,345.60 A20.7,20.7 0 1 1 123.92,376.73 Z" fill="#a8082c"/>
<circle cx="141.80" cy="366.30" r="20.7" fill="none" stroke="#111" stroke-width="1.45"/>
<path d="M141.80,345.60 L141.80,366.30 L123.92,376.73" fill="none" stroke="#111" stroke-width="1.2" stroke-linejoin="miter"/>
<circle cx="142.30" cy="442.90" r="20.7" fill="#fff"/>
<path d="M142.30,442.90 L142.30,422.20 A20.7,20.7 0 1 1 132.36,461.06 Z" fill="#2f4c7c"/>
<circle cx="142.30" cy="442.90" r="20.7" fill="none" stroke="#111" stroke-width="1.45"/>
<path d="M142.30,422.20 L142.30,442.90 L132.36,461.06" fill="none" stroke="#111" stroke-width="1.2" stroke-linejoin="miter"/>
<text x="208.60" y="340.20" font-size="10.3" text-anchor="middle" font-weight="bold" fill="#111" stroke="#111" stroke-width="0.25" >day 5</text>
<circle cx="208.60" cy="366.30" r="20.7" fill="#fff"/>
<path d="M208.60,366.30 L208.60,345.60 A20.7,20.7 0 1 1 201.80,346.75 Z" fill="#a8082c"/>
<circle cx="208.60" cy="366.30" r="20.7" fill="none" stroke="#111" stroke-width="1.45"/>
<path d="M208.60,345.60 L208.60,366.30 L201.80,346.75" fill="none" stroke="#111" stroke-width="1.2" stroke-linejoin="miter"/>
<circle cx="208.70" cy="442.90" r="20.7" fill="#fff"/>
<path d="M208.70,442.90 L208.70,422.20 A20.7,20.7 0 1 1 199.30,424.46 Z" fill="#2f4c7c"/>
<circle cx="208.70" cy="442.90" r="20.7" fill="none" stroke="#111" stroke-width="1.45"/>
<path d="M208.70,422.20 L208.70,442.90 L199.30,424.46" fill="none" stroke="#111" stroke-width="1.2" stroke-linejoin="miter"/>
<text x="274.40" y="340.20" font-size="10.3" text-anchor="middle" font-weight="bold" fill="#111" stroke="#111" stroke-width="0.25" >day 8</text>
<circle cx="274.40" cy="366.30" r="20.7" fill="#fff"/>
<path d="M274.40,366.30 L274.40,345.60 A20.7,20.7 0 1 1 253.76,367.86 Z" fill="#a8082c"/>
<circle cx="274.40" cy="366.30" r="20.7" fill="none" stroke="#111" stroke-width="1.45"/>
<path d="M274.40,345.60 L274.40,366.30 L253.76,367.86" fill="none" stroke="#111" stroke-width="1.2" stroke-linejoin="miter"/>
<circle cx="276.00" cy="442.90" r="20.7" fill="#fff"/>
<path d="M276.00,442.90 L276.00,422.20 A20.7,20.7 0 1 1 257.84,432.96 Z" fill="#2f4c7c"/>
<circle cx="276.00" cy="442.90" r="20.7" fill="none" stroke="#111" stroke-width="1.45"/>
<path d="M276.00,422.20 L276.00,442.90 L257.84,432.96" fill="none" stroke="#111" stroke-width="1.2" stroke-linejoin="miter"/>
<text x="339.60" y="340.20" font-size="10.3" text-anchor="middle" font-weight="bold" fill="#111" stroke="#111" stroke-width="0.25" >day 15</text>
<circle cx="339.60" cy="366.30" r="20.7" fill="#fff"/>
<path d="M339.60,366.30 L339.60,345.60 A20.7,20.7 0 1 1 334.87,346.15 Z" fill="#a8082c"/>
<circle cx="339.60" cy="366.30" r="20.7" fill="none" stroke="#111" stroke-width="1.45"/>
<path d="M339.60,345.60 L339.60,366.30 L334.87,346.15" fill="none" stroke="#111" stroke-width="1.2" stroke-linejoin="miter"/>
<circle cx="339.30" cy="442.90" r="20.7" fill="#fff"/>
<path d="M339.30,442.90 L339.30,422.20 A20.7,20.7 0 1 1 333.31,423.08 Z" fill="#2f4c7c"/>
<circle cx="339.30" cy="442.90" r="20.7" fill="none" stroke="#111" stroke-width="1.45"/>
<path d="M339.30,422.20 L339.30,442.90 L333.31,423.08" fill="none" stroke="#111" stroke-width="1.2" stroke-linejoin="miter"/>
<text x="402.90" y="340.20" font-size="10.3" text-anchor="middle" font-weight="bold" fill="#111" stroke="#111" stroke-width="0.25" >day 30</text>
<circle cx="402.90" cy="366.30" r="20.7" fill="#fff"/>
<path d="M402.90,366.30 L402.90,345.60 A20.7,20.7 0 1 1 402.42,345.61 Z" fill="#a8082c"/>
<circle cx="402.90" cy="366.30" r="20.7" fill="none" stroke="#111" stroke-width="1.45"/>
<path d="M402.90,345.60 L402.90,366.30 L402.42,345.61" fill="none" stroke="#111" stroke-width="1.2" stroke-linejoin="miter"/>
<circle cx="402.80" cy="442.90" r="20.7" fill="#fff"/>
<path d="M402.80,442.90 L402.80,422.20 A20.7,20.7 0 1 1 402.54,422.20 Z" fill="#2f4c7c"/>
<circle cx="402.80" cy="442.90" r="20.7" fill="none" stroke="#111" stroke-width="1.45"/>
<path d="M402.80,422.20 L402.80,442.90 L402.54,422.20" fill="none" stroke="#111" stroke-width="1.2" stroke-linejoin="miter"/>
<text x="16.90" y="410.00" font-size="8.5" text-anchor="start" font-weight="normal" fill="#9a2848" stroke="#9a2848" stroke-width="0.25" >NK cells</text>
<line x1="52.50" y1="407.20" x2="136.30" y2="407.20" stroke="#111" stroke-width="1.3" />
<text x="91.90" y="402.30" font-size="8.2" text-anchor="end" font-weight="normal" fill="#2a2a2a" stroke="#2a2a2a" stroke-width="0.25" >Donor</text>
<text x="91.90" y="418.00" font-size="8.2" text-anchor="end" font-weight="normal" fill="#2a2a2a" stroke="#2a2a2a" stroke-width="0.25" >Host</text>
<rect x="97.0" y="397.10" width="4.6" height="4.6" fill="#7a1028" stroke="#111" stroke-width="1.1"/>
<rect x="97.0" y="413.10" width="4.6" height="4.6" fill="#fff" stroke="#111" stroke-width="1.1"/>
<line x1="109.20" y1="392.20" x2="109.20" y2="421.30" stroke="#262626" stroke-width="1.35" />
<text x="111.90" y="402.20" font-size="8.6" text-anchor="start" font-weight="normal" fill="#2a2a2a" stroke="#2a2a2a" stroke-width="0.25" >66.60</text>
<text x="111.90" y="418.00" font-size="8.6" text-anchor="start" font-weight="normal" fill="#2a2a2a" stroke="#2a2a2a" stroke-width="0.25" >33.40</text>
<text x="138.80" y="410.10" font-size="8.6" text-anchor="start" font-weight="normal" fill="#2a2a2a" stroke="#2a2a2a" stroke-width="0.25" >± 47.93</text>
<line x1="178.40" y1="392.20" x2="178.40" y2="421.30" stroke="#262626" stroke-width="1.35" />
<line x1="178.40" y1="407.20" x2="200.00" y2="407.20" stroke="#111" stroke-width="1.3" />
<text x="180.60" y="401.70" font-size="8.6" text-anchor="start" font-weight="normal" fill="#2a2a2a" stroke="#2a2a2a" stroke-width="0.25" >94.67</text>
<text x="180.60" y="418.00" font-size="8.6" text-anchor="start" font-weight="normal" fill="#2a2a2a" stroke="#2a2a2a" stroke-width="0.25" >5.33</text>
<text x="201.90" y="410.10" font-size="8.6" text-anchor="start" font-weight="normal" fill="#2a2a2a" stroke="#2a2a2a" stroke-width="0.25" >± 7.10</text>
<line x1="242.00" y1="392.20" x2="242.00" y2="421.30" stroke="#262626" stroke-width="1.35" />
<line x1="242.00" y1="407.20" x2="272.50" y2="407.20" stroke="#111" stroke-width="1.3" />
<text x="244.40" y="401.70" font-size="8.6" text-anchor="start" font-weight="normal" fill="#2a2a2a" stroke="#2a2a2a" stroke-width="0.25" >73.80</text>
<text x="244.40" y="418.00" font-size="8.6" text-anchor="start" font-weight="normal" fill="#2a2a2a" stroke="#2a2a2a" stroke-width="0.25" >26.20</text>
<text x="274.40" y="410.10" font-size="8.6" text-anchor="start" font-weight="normal" fill="#2a2a2a" stroke="#2a2a2a" stroke-width="0.25" >± 36.20</text>
<line x1="312.75" y1="392.20" x2="312.75" y2="421.30" stroke="#262626" stroke-width="1.35" />
<line x1="312.75" y1="407.20" x2="342.30" y2="407.20" stroke="#111" stroke-width="1.3" />
<text x="315.00" y="401.70" font-size="8.6" text-anchor="start" font-weight="normal" fill="#2a2a2a" stroke="#2a2a2a" stroke-width="0.25" >96.33</text>
<text x="316.90" y="418.00" font-size="8.6" text-anchor="start" font-weight="normal" fill="#2a2a2a" stroke="#2a2a2a" stroke-width="0.25" >3.67</text>
<text x="343.80" y="410.10" font-size="8.6" text-anchor="start" font-weight="normal" fill="#2a2a2a" stroke="#2a2a2a" stroke-width="0.25" >± 4.02</text>
<line x1="376.40" y1="392.20" x2="376.40" y2="421.30" stroke="#262626" stroke-width="1.35" />
<line x1="376.40" y1="407.20" x2="404.40" y2="407.20" stroke="#111" stroke-width="1.3" />
<text x="379.00" y="401.70" font-size="8.6" text-anchor="start" font-weight="normal" fill="#2a2a2a" stroke="#2a2a2a" stroke-width="0.25" >99.63</text>
<text x="381.30" y="418.00" font-size="8.6" text-anchor="start" font-weight="normal" fill="#2a2a2a" stroke="#2a2a2a" stroke-width="0.25" >0.37</text>
<text x="406.90" y="410.10" font-size="8.6" text-anchor="start" font-weight="normal" fill="#2a2a2a" stroke="#2a2a2a" stroke-width="0.25" >± 0.64</text>
<line x1="435.30" y1="392.20" x2="435.30" y2="421.30" stroke="#262626" stroke-width="1.35" />
<text x="24.00" y="485.90" font-size="8.5" text-anchor="start" font-weight="normal" fill="#4a5f8a" stroke="#4a5f8a" stroke-width="0.25" >T cells</text>
<line x1="52.50" y1="483.10" x2="136.90" y2="483.10" stroke="#111" stroke-width="1.3" />
<text x="91.90" y="478.20" font-size="8.2" text-anchor="end" font-weight="normal" fill="#2a2a2a" stroke="#2a2a2a" stroke-width="0.25" >Donor</text>
<text x="91.90" y="493.90" font-size="8.2" text-anchor="end" font-weight="normal" fill="#2a2a2a" stroke="#2a2a2a" stroke-width="0.25" >Host</text>
<rect x="97.0" y="473.00" width="4.6" height="4.6" fill="#1e2c52" stroke="#111" stroke-width="1.1"/>
<rect x="97.0" y="489.00" width="4.6" height="4.6" fill="#fff" stroke="#111" stroke-width="1.1"/>
<line x1="109.20" y1="468.10" x2="109.20" y2="497.20" stroke="#262626" stroke-width="1.35" />
<text x="111.90" y="478.10" font-size="8.6" text-anchor="start" font-weight="normal" fill="#2a2a2a" stroke="#2a2a2a" stroke-width="0.25" >57.97</text>
<text x="111.90" y="493.90" font-size="8.6" text-anchor="start" font-weight="normal" fill="#2a2a2a" stroke="#2a2a2a" stroke-width="0.25" >42.03</text>
<text x="139.00" y="486.00" font-size="8.6" text-anchor="start" font-weight="normal" fill="#2a2a2a" stroke="#2a2a2a" stroke-width="0.25" >± 31.66</text>
<line x1="178.40" y1="468.10" x2="178.40" y2="497.20" stroke="#262626" stroke-width="1.35" />
<line x1="178.40" y1="483.10" x2="208.10" y2="483.10" stroke="#111" stroke-width="1.3" />
<text x="180.60" y="477.60" font-size="8.6" text-anchor="start" font-weight="normal" fill="#2a2a2a" stroke="#2a2a2a" stroke-width="0.25" >92.50</text>
<text x="183.50" y="493.90" font-size="8.6" text-anchor="start" font-weight="normal" fill="#2a2a2a" stroke="#2a2a2a" stroke-width="0.25" >7.50</text>
<text x="209.80" y="486.00" font-size="8.6" text-anchor="start" font-weight="normal" fill="#2a2a2a" stroke="#2a2a2a" stroke-width="0.25" >± 3.05</text>
<line x1="242.00" y1="468.10" x2="242.00" y2="497.20" stroke="#262626" stroke-width="1.35" />
<line x1="242.00" y1="483.10" x2="272.50" y2="483.10" stroke="#111" stroke-width="1.3" />
<text x="244.00" y="477.60" font-size="8.6" text-anchor="start" font-weight="normal" fill="#2a2a2a" stroke="#2a2a2a" stroke-width="0.25" >82.97</text>
<text x="245.00" y="493.90" font-size="8.6" text-anchor="start" font-weight="normal" fill="#2a2a2a" stroke="#2a2a2a" stroke-width="0.25" >17.03</text>
<text x="274.80" y="486.00" font-size="8.6" text-anchor="start" font-weight="normal" fill="#2a2a2a" stroke="#2a2a2a" stroke-width="0.25" >± 21.85</text>
<line x1="312.75" y1="468.10" x2="312.75" y2="497.20" stroke="#262626" stroke-width="1.35" />
<line x1="312.75" y1="483.10" x2="343.80" y2="483.10" stroke="#111" stroke-width="1.3" />
<text x="314.80" y="477.60" font-size="8.6" text-anchor="start" font-weight="normal" fill="#2a2a2a" stroke="#2a2a2a" stroke-width="0.25" >95.33</text>
<text x="317.30" y="493.90" font-size="8.6" text-anchor="start" font-weight="normal" fill="#2a2a2a" stroke="#2a2a2a" stroke-width="0.25" >4.67</text>
<text x="345.60" y="486.00" font-size="8.6" text-anchor="start" font-weight="normal" fill="#2a2a2a" stroke="#2a2a2a" stroke-width="0.25" >± 5.56</text>
<line x1="376.40" y1="468.10" x2="376.40" y2="497.20" stroke="#262626" stroke-width="1.35" />
<line x1="376.40" y1="483.10" x2="405.00" y2="483.10" stroke="#111" stroke-width="1.3" />
<text x="378.10" y="477.60" font-size="8.6" text-anchor="start" font-weight="normal" fill="#2a2a2a" stroke="#2a2a2a" stroke-width="0.25" >99.80</text>
<text x="380.60" y="493.90" font-size="8.6" text-anchor="start" font-weight="normal" fill="#2a2a2a" stroke="#2a2a2a" stroke-width="0.25" >0.20</text>
<text x="407.30" y="486.00" font-size="8.6" text-anchor="start" font-weight="normal" fill="#2a2a2a" stroke="#2a2a2a" stroke-width="0.25" >± 0.28</text>
<line x1="435.30" y1="468.10" x2="435.30" y2="497.20" stroke="#262626" stroke-width="1.35" />
<rect x="0" y="0" width="1.3" height="505" fill="#000"/><rect x="0" y="0" width="520" height="1.3" fill="#000"/><rect x="518" y="0" width="2" height="505" fill="#000"/><rect x="0" y="503" width="520" height="2" fill="#000"/>
</svg></div></body></html>
